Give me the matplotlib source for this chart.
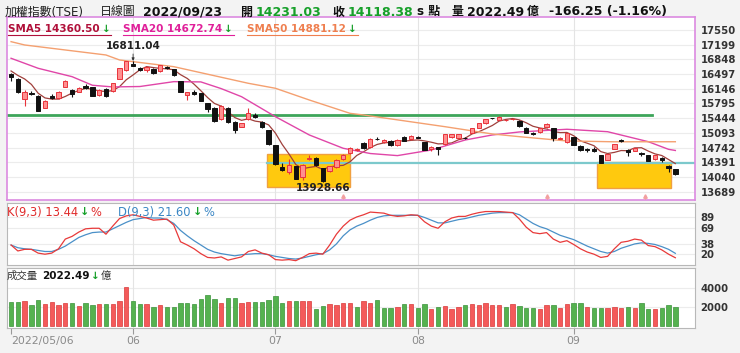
import numpy as np
import matplotlib
matplotlib.use('Agg')
import matplotlib.pyplot as plt
from matplotlib.patches import Rectangle
from matplotlib.lines import Line2D

plt.rcParams['font.family'] = ['DejaVu Sans', 'Noto Sans CJK TC']

# ---- data (讀圖估計) ----
month_labels = ['2022/05/06', '06', '07', '08', '09']
month_idx = [0, 18, 39, 60, 83]

opens = [16499, 16380, 15895, 16053, 15981, 15695, 15974, 15919, 16196, 16124,
         16077, 16213, 16189, 15998, 16141, 16093, 16380, 16595, 16738, 16635,
         16588, 16611, 16564, 16670, 16611, 16332, 15998, 16069, 16038, 15800,
         15680, 15417, 15680, 15361, 15241, 15417, 15528, 15361, 15162, 14804,
         14271, 14150, 14302, 14032, 14470, 14486, 14247, 14191, 14271, 14470,
         14605, 14690, 14844, 14748, 14950, 14876, 14907, 14796, 15002, 14947,
         14985, 14868, 14716, 14748, 14828, 14987, 14963, 14970, 15098, 15217,
         15322, 15445, 15401, 15395, 15420, 15385, 15217, 15090, 15106, 15226,
         15202, 14955, 14868, 14987, 14788, 14690, 14700, 14565, 14446, 14708,
         14912, 14684, 14660, 14610, 14565, 14462, 14501, 14310, 14231.03]
highs = [16530, 16400, 16117, 16100, 16000, 15880, 16010, 16090, 16345, 16140,
         16190, 16250, 16200, 16130, 16160, 16290, 16650, 16808, 16811.04, 16660,
         16680, 16640, 16720, 16700, 16630, 16340, 16080, 16110, 16050, 15810,
         15700, 15760, 15700, 15380, 15330, 15680, 15560, 15380, 15170, 14810,
         14380, 14480, 14310, 14340, 14560, 14510, 14260, 14310, 14470, 14580,
         14750, 14740, 14880, 14960, 15000, 14950, 14930, 14940, 15030, 15040,
         15020, 14880, 14780, 14760, 15070, 15070, 15070, 14990, 15215, 15330,
         15435, 15460, 15490, 15420, 15445, 15400, 15225, 15110, 15210, 15320,
         15215, 14990, 15090, 15000, 14800, 14740, 14760, 14570, 14590, 14830,
         14940, 14700, 14740, 14630, 14570, 14575, 14510, 14320, 14231.03]
lows = [16340, 16040, 15742, 15990, 15610, 15680, 15890, 15900, 16180, 15960,
        16060, 16150, 15970, 15985, 15950, 16080, 16370, 16580, 16680, 16560,
        16540, 16500, 16550, 16620, 16440, 16060, 15880, 16000, 15850, 15590,
        15360, 15400, 15340, 15100, 15230, 15400, 15440, 15220, 14810, 14330,
        14190, 14100, 13980, 13960, 14440, 14310, 13928.66, 14150, 14250, 14450,
        14590, 14650, 14710, 14730, 14930, 14860, 14780, 14780, 14890, 14930,
        14960, 14680, 14650, 14565, 14810, 14970, 14950, 14940, 15090, 15210,
        15310, 15420, 15390, 15370, 15400, 15240, 15090, 15050, 15100, 15215,
        14900, 14940, 14860, 14800, 14670, 14640, 14640, 14370, 14440, 14700,
        14880, 14540, 14650, 14540, 14410, 14450, 14390, 14150, 14080]
closes = [16420, 16062, 16077, 16015, 15623, 15862, 15919, 16077, 16332, 16029,
          16172, 16165, 15982, 16117, 15974, 16276, 16635, 16807, 16690, 16588,
          16659, 16516, 16707, 16640, 16475, 16077, 16062, 16021, 15862, 15656,
          15377, 15742, 15361, 15162, 15321, 15561, 15465, 15241, 14828, 14343,
          14207, 14326, 13984, 14326, 14500, 14326, 13950, 14302, 14446, 14565,
          14740, 14717, 14740, 14947, 14940, 14923, 14796, 14923, 14900, 15026,
          14975, 14684, 14764, 14700, 15058, 15058, 15058, 14960, 15202, 15322,
          15425, 15438, 15481, 15405, 15428, 15258, 15098, 15066, 15202, 15298,
          14963, 14968, 15082, 14812, 14684, 14684, 14668, 14382, 14581, 14820,
          14905, 14644, 14724, 14600, 14422, 14565, 14450, 14247, 14118.38]
prev_closes = [16592, 16498, 16670, 16675]   # 5/06 之前四日

volume = [2570, 2530, 2670, 2170, 2730, 2330, 2530, 2200, 2470, 2470,
          2100, 2470, 2200, 2270, 2330, 2330, 2670, 4100, 2670, 2300,
          2300, 2000, 2200, 2030, 2030, 2400, 2400, 2330, 2830, 3230,
          2830, 2470, 2930, 2930, 2400, 2530, 2500, 2530, 2730, 3130,
          2470, 2630, 2600, 2670, 2670, 1830, 2100, 2330, 2200, 2400,
          2400, 2030, 2670, 2470, 2730, 1930, 1930, 2000, 2330, 2330,
          1930, 2270, 1830, 2000, 2100, 1830, 2000, 2200, 2330, 2200,
          2470, 2200, 2230, 2030, 2330, 2100, 1870, 1930, 1770, 2200,
          2200, 1930, 2270, 2400, 2470, 2000, 1930, 1930, 1930, 2000,
          1930, 2000, 1930, 2470, 1770, 1800, 1870, 2200, 2022.49]

k_vals = [37, 26, 29, 29, 22, 20, 22, 30, 48, 53,
          61, 67, 68, 68, 57, 72, 86, 91, 93, 90,
          87, 83, 84, 85, 74, 43, 37, 30, 21, 14,
          13, 15, 9, 12, 15, 25, 28, 22, 19, 10,
          9, 10, 8, 14, 21, 22, 20, 37, 57, 72,
          83, 89, 93, 98, 97, 96, 92, 90, 91, 93,
          92, 80, 72, 68, 80, 87, 90, 90, 94, 97,
          99, 99, 99, 98, 97, 85, 70, 60, 58, 60,
          48, 42, 45, 38, 30, 24, 20, 14, 16, 30,
          42, 44, 48, 46, 36, 34, 28, 20, 13.44]
d_vals = [37, 32, 30, 29, 27, 25, 25, 29, 35, 43,
          51, 56, 60, 61, 61, 67, 73, 79, 84, 86,
          88, 87, 87, 84, 77, 64, 54, 45, 37, 29,
          24, 21, 19, 17, 19, 20, 21, 21, 19, 16,
          14, 12, 11, 13, 16, 19, 21, 28, 39, 54,
          65, 72, 77, 83, 88, 91, 92, 92, 92, 92,
          92, 88, 83, 78, 78, 81, 84, 86, 89, 92,
          94, 96, 97, 97, 97, 93, 85, 77, 71, 67,
          61, 55, 51, 47, 41, 35, 30, 25, 22, 25,
          31, 35, 39, 41, 40, 38, 34, 29, 21.60]

sma20_idx = [0, 4, 9, 12, 15, 19, 24, 28, 31, 34, 39, 44, 49, 53, 57, 62, 67, 71, 75, 82, 88, 94, 97, 98]
sma20_vals = [16874, 16635, 16435, 16230, 16190, 16200, 16316, 16310, 16150, 15957, 15480, 15043,
              14725, 14600, 14550, 14684, 14923, 15043, 15115, 15179, 15121, 14883, 14700, 14672.74]
sma50_idx = [0, 2, 14, 16, 24, 35, 39, 44, 50, 52, 64, 71, 75, 82, 89, 98]
sma50_vals = [17271, 17192, 16953, 16834, 16674, 16277, 16158, 15878, 15560, 15520, 15241, 15067,
              15002, 14900, 14880, 14881.12]

resist_level = 15520
support_level = 14385
boxes = [(37.8, 50.0, 13808, 14589), (86.5, 97.4, 13784, 14391)]
signal_idx = [49, 79, 93.5]

price_ticks = [17550, 17199, 16848, 16497, 16146, 15795, 15444, 15093, 14742, 14391, 14040, 13689]
kd_ticks = [89, 69, 38, 20]
vol_ticks = [2000, 4000]

# ---- figure ----
W, H = 740, 353
fig = plt.figure(figsize=(7.4, 3.53), dpi=100)
fig.patch.set_facecolor('#f3f3f3')


def box(x0, y0, x1, y1):
    return [x0 / W, 1 - y1 / H, (x1 - x0) / W, (y1 - y0) / H]


n = len(closes)
x = np.arange(n)
o = np.array(opens); c = np.array(closes)
hi = np.array(highs); lo = np.array(lows)
up = c >= o
xlim = (-0.6, 100.9)
green = '#17a02a'

ax = fig.add_axes(box(7, 17, 695, 200))
ax.set_xlim(*xlim)
ax.set_ylim(13490, 17860)
for yv in price_ticks:
    ax.axhline(yv, color='#ececec', lw=0.8, zorder=0)
for m in month_idx[1:]:
    ax.axvline(m, color='#e4e4e4', lw=0.8, zorder=0)

for (a, b, y0, y1) in boxes:
    ax.add_patch(Rectangle((a, y0), b - a, y1 - y0, facecolor='#ffc90e',
                           edgecolor='#f0a040', lw=1, zorder=1))
ax.plot([xlim[0], 94.5], [resist_level] * 2, color='#3da55a', lw=2, zorder=2)
ax.plot([37.8, xlim[1]], [support_level] * 2, color='#7cc9cc', lw=1.6, zorder=2)

allc = prev_closes + closes
sma5 = [np.mean(allc[i:i + 5]) for i in range(n)]
ax.plot(x, sma5, color='#a0403c', lw=0.9, zorder=2.5)
ax.plot(sma20_idx, sma20_vals, color='#e046a8', lw=1.0, zorder=2.5)
ax.plot(sma50_idx, sma50_vals, color='#f4a070', lw=1.0, zorder=2.5)

wick_c = np.where(up, '#e8333b', '#111111')
fill_c = np.where(up, '#ff8f8f', '#111111')
ax.vlines(x, lo, hi, colors=wick_c, lw=0.8, zorder=3)
ax.bar(x, np.maximum(np.abs(c - o), 12), bottom=np.minimum(o, c), width=0.64,
       color=fill_c, edgecolor=wick_c, lw=0.7, zorder=4)

imax = int(np.argmax(hi)); imin = int(np.argmin(lo))
ax.annotate('%.2f' % hi[imax], xy=(imax, hi[imax]), xytext=(0, 7), textcoords='offset points',
            ha='center', va='bottom', fontsize=7.5, fontweight='bold', color='#222',
            arrowprops=dict(arrowstyle='-|>', lw=0.6, color='#333', shrinkA=0, shrinkB=0,
                            mutation_scale=4))
ax.annotate('%.2f' % lo[imin], xy=(imin, lo[imin]), xytext=(0, -1), textcoords='offset points',
            ha='center', va='top', fontsize=7.5, fontweight='bold', color='#222')
# 訊號小箭頭
ax.vlines(signal_idx, 13495, 13580, colors='#f2a0a0', lw=0.7, zorder=3)
ax.plot(signal_idx, [13585] * len(signal_idx), '^', ms=2.5, color='#f2a0a0', zorder=3)

ax.yaxis.tick_right()
ax.set_yticks(price_ticks)
ax.set_yticklabels([str(t) for t in price_ticks], fontsize=7.3, fontweight='bold', color='#333')
ax.tick_params(axis='y', length=0, pad=4)
ax.set_xticks([])
for sp in ax.spines.values():
    sp.set_color('#dc8ae0')
    sp.set_linewidth(1.2)

# ---- KD ----
ak = fig.add_axes(box(7, 203, 695, 265))
ak.set_xlim(*xlim)
ak.set_ylim(0, 114.8)
for yv in kd_ticks:
    ak.axhline(yv, color='#ececec', lw=0.8, zorder=0)
for m in month_idx[1:]:
    ak.axvline(m, color='#e4e4e4', lw=0.8, zorder=0)
ak.plot(x, d_vals, color='#4a90c8', lw=0.9)
ak.plot(x, k_vals, color='#e83a3a', lw=0.9)
ak.yaxis.tick_right()
ak.set_yticks(kd_ticks)
ak.set_yticklabels([str(t) for t in kd_ticks], fontsize=7.3, fontweight='bold', color='#333')
ak.tick_params(axis='y', length=0, pad=4)
ak.set_xticks([])
for sp in ak.spines.values():
    sp.set_color('#b8b8b8')

# ---- volume ----
av = fig.add_axes(box(7, 268, 695, 328))
av.set_xlim(*xlim)
av.set_ylim(-210, 6105)
for yv in vol_ticks:
    av.axhline(yv, color='#ececec', lw=0.8, zorder=0)
for m in month_idx[1:]:
    av.axvline(m, color='#e4e4e4', lw=0.8, zorder=0)
vc = np.array(prev_closes[-1:] + closes[:-1])
vup = c >= vc
av.bar(x, volume, width=0.64, color=np.where(vup, '#f45a5a', '#55b24f'),
       edgecolor=np.where(vup, '#d83a3a', '#3a923a'), lw=0.5, zorder=2)
av.yaxis.tick_right()
av.set_yticks(vol_ticks)
av.set_yticklabels([str(t) for t in vol_ticks], fontsize=7.3, fontweight='bold', color='#333')
av.tick_params(axis='y', length=0, pad=4)
av.set_xticks(month_idx)
av.set_xticklabels(month_labels, fontsize=7.8, color='#8a8a8a')
av.get_xticklabels()[0].set_ha('left')
av.tick_params(axis='x', length=4, color='#999', pad=2)
for sp in av.spines.values():
    sp.set_color('#b8b8b8')

# ---- texts ----
r = fig.canvas.get_renderer()


def put(px, py, s, color, weight='normal', size=8):
    t = fig.text(px / W, 1 - py / H, s, color=color, fontweight=weight, fontsize=size,
                 ha='left', va='center')
    bb = t.get_window_extent(renderer=r)
    return bb.x1


# 標題列: 依序排, 不重疊
hdr = [(5, '加權指數(TSE)', '#222', 'normal', 8.6), (100, '日線圖', '#222', 'normal', 8.6),
       (143, '2022/09/23', '#111', 'bold', 9), (240, '開', '#111', 'bold', 8.6),
       (256, '14231.03', green, 'bold', 9), (332, '收', '#111', 'bold', 8.6),
       (348, '14118.38', green, 'bold', 9), (416, 's 點', '#111', 'bold', 8.6),
       (452, '量', '#111', 'bold', 8.6), (467, '2022.49', '#111', 'bold', 9),
       (521, '億', '#111', 'bold', 8.6), (549, '-166.25 (-1.16%)', '#111', 'bold', 9)]
prev = 0
for px, s, col, wt, sz in hdr:
    prev = put(max(px, prev + 3), 12, s, col, wt, sz)

for px, s, col in [(8, 'SMA5 14360.50', '#b0103a'), (123, 'SMA20 14672.74', '#e0209a'),
                   (247, 'SMA50 14881.12', '#ef7f4f')]:
    x1 = put(px, 29, s, col, 'bold', 7.5)
    x2 = put(x1 + 2, 29, '↓', green, 'bold', 7.5)
    fig.add_artist(Line2D([px / W, (x2 + 1) / W], [1 - 34.5 / H] * 2, color=col, lw=0.8))

x1 = put(7, 212, 'K(9,3) 13.44', '#e02a2a', 'normal', 8.3)
x1 = put(x1 + 2, 212, '↓', green, 'bold', 8)
put(x1 + 1, 212, '%', '#e02a2a', 'normal', 8.3)
x1 = put(118, 212, 'D(9,3) 21.60', '#3a86c4', 'normal', 8.3)
x1 = put(x1 + 2, 212, '↓', green, 'bold', 8)
put(x1 + 1, 212, '%', '#3a86c4', 'normal', 8.3)

x1 = put(7, 276, '成交量', '#333', 'normal', 7.5)
x1 = put(x1 + 4, 276, '2022.49', '#111', 'bold', 7.5)
x1 = put(x1 + 1, 276, '↓', green, 'bold', 7.5)
put(x1 + 1, 276, '億', '#333', 'normal', 7.5)

fig.savefig('out.png', dpi=100, facecolor=fig.get_facecolor())
